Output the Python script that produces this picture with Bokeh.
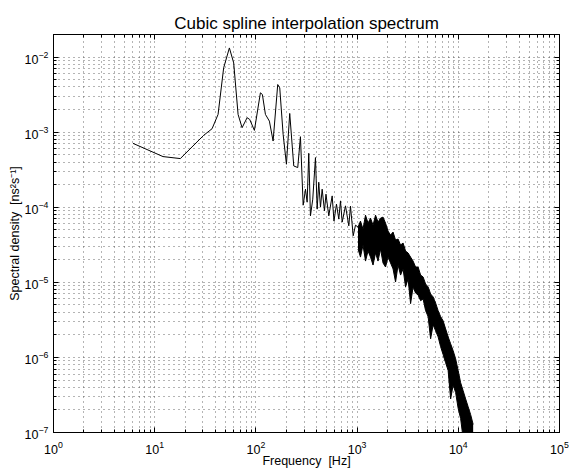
from bokeh.plotting import figure
from bokeh.models import Range1d, FixedTicker, LogAxis, ColumnDataSource, CustomJSTickFormatter
from bokeh.embed import file_html
from bokeh.resources import INLINE

# ---- data ----
# low-frequency / sparse part of the spectrum (Hz, ns^2 s^-1)
freq = [6.10, 12.08, 17.92, 30.45, 36.89, 42.28, 48.03, 54.69, 60.32, 66.68,
        73.03, 81.85, 86.83, 96.65, 110.8, 115.9, 124.2, 135.9, 147.9, 164.3,
        172.0, 185.8, 200.3, 215.9, 236.6, 259.1, 275.5, 293.1, 308.9, 320.9,
        332.9, 346.0, 364.6, 387.7, 403.0, 418.0, 434.5, 451.6, 476.1, 492.6,
        525.0, 567.2, 590.9, 625.5, 659.2, 685.2, 712.2, 768.0, 827.9, 860.5,
        914.9, 964.3, 1021.0]
psd = [7.10e-4, 4.73e-4, 4.45e-4, 9.07e-4, 1.112e-3, 1.724e-3, 7.19e-3, 1.325e-2, 8.38e-3, 1.724e-3,
       1.147e-3, 1.558e-3, 1.479e-3, 1.056e-3, 3.346e-3, 3.177e-3, 1.724e-3, 1.404e-3, 7.62e-4, 4.31e-3,
       3.90e-3, 9.35e-4, 3.74e-4, 1.777e-3, 3.55e-4, 3.38e-4, 8.71e-4, 1.066e-4, 1.74e-4, 1.168e-4,
       5.23e-4, 7.69e-5, 1.281e-4, 4.59e-4, 9.44e-5, 2.154e-4, 1.003e-4, 1.74e-4, 8.96e-5, 1.493e-4,
       7.69e-5, 1.417e-4, 6.54e-5, 1.10e-4, 6.95e-5, 1.216e-4, 6.34e-5, 1.044e-4, 5.66e-5, 1.034e-4,
       4.17e-5, 5.78e-5, 5.44e-5]

# dense high-frequency noise band: upper and lower envelope of the trace
band_freq = [1021, 1080, 1144, 1211, 1282, 1357, 1437, 1521, 1610, 1704,
             1804, 1910, 2022, 2141, 2266, 2399, 2540, 2689, 2846, 3013,
             3190, 3377, 3575, 3784, 4006, 4241, 4489, 4752, 5031, 5326,
             5638, 5968, 6318, 6688, 7080, 7495, 7934, 8399, 8891, 9412,
             9964, 10548, 11166, 11820, 12513, 13246, 14022]
band_hi = [5.44e-5, 6.54e-5, 5.12e-5, 7.85e-5, 6.15e-5, 7.16e-5, 5.78e-5, 7.85e-5, 6.34e-5, 7.16e-5,
           7.39e-5, 6.15e-5, 4.82e-5, 4.26e-5, 4.67e-5, 3.66e-5, 3.77e-5, 3.14e-5, 3.34e-5, 2.61e-5,
           2.46e-5, 2.17e-5, 1.92e-5, 1.60e-5, 1.60e-5, 1.25e-5, 1.18e-5, 9.5e-6, 8.7e-6, 7.0e-6,
           6.4e-6, 5.3e-6, 4.2e-6, 3.5e-6, 3.07e-6, 2.40e-6, 1.88e-6, 1.52e-6, 1.23e-6, 9.6e-7,
           6.7e-7, 4.6e-7, 3.6e-7, 2.8e-7, 2.2e-7, 1.73e-7, 1.28e-7]
band_lo = [2.78e-5, 2.17e-5, 3.14e-5, 1.92e-5, 2.61e-5, 2.17e-5, 1.70e-5, 2.46e-5, 1.92e-5, 2.78e-5,
           1.81e-5, 1.60e-5, 2.17e-5, 1.81e-5, 1.51e-5, 1.01e-5, 1.70e-5, 1.25e-5, 1.51e-5, 8.7e-6,
           1.11e-5, 5.2e-6, 8.7e-6, 7.2e-6, 6.8e-6, 5.7e-6, 6.0e-6, 4.2e-6, 3.5e-6, 1.77e-6,
           2.72e-6, 2.26e-6, 1.88e-6, 1.39e-6, 1.09e-6, 8.5e-7, 6.7e-7, 2.8e-7, 4.3e-7, 3.4e-7,
           2.1e-7, 1.53e-7, 8.3e-8, 8.3e-8, 8.3e-8, 8.3e-8, 8.3e-8]

x_major = [1, 10, 100, 1e3, 1e4, 1e5]
y_major = [1e-7, 1e-6, 1e-5, 1e-4, 1e-3, 1e-2]

FONT = "Liberation Sans"

x_minor = [m * d for d in x_major[:-1] for m in range(2, 10)]
y_minor = [m * d for d in y_major for m in range(2, 10)]

p = figure(width=569, height=470, x_axis_type="log", y_axis_type="log",
           x_range=Range1d(1, 1e5), y_range=Range1d(1e-7, 2e-2),
           output_backend="svg", toolbar_location=None,
           title="Cubic spline interpolation spectrum")
p.min_border_left = 53
p.min_border_right = 10
p.min_border_top = 34
p.min_border_bottom = 36
p.background_fill_color = "white"
p.border_fill_color = "white"
p.outline_line_color = "black"
p.outline_line_width = 1

p.title.align = "center"
p.title.offset = 11
p.title.text_font = FONT
p.title.text_font_size = "17px"
p.title.text_font_style = "normal"
p.title.text_color = "black"
p.title.standoff = 4

xt = FixedTicker(ticks=x_major, minor_ticks=x_minor)
yt = FixedTicker(ticks=y_major, minor_ticks=y_minor)

for ax, t in ((p.xaxis[0], xt), (p.yaxis[0], yt)):
    ax.ticker = t
    ax.major_tick_in = 5
    ax.major_tick_out = 0
    ax.minor_tick_in = 3
    ax.minor_tick_out = 0
    ax.axis_line_color = "black"
    ax.major_label_text_font = FONT
    ax.major_label_text_font_size = "12.5px"
    ax.major_label_text_color = "black"
    ax.axis_label_text_font = FONT
    ax.axis_label_text_font_size = "12.5px"
    ax.axis_label_text_font_style = "normal"
    ax.axis_label_text_color = "black"

p.xaxis.axis_label = "Frequency\u00a0\u00a0[Hz]"
p.yaxis.axis_label = "Spectral density\u00a0\u00a0[ns\u00b2s\u207b\u00b9]"
p.xaxis.axis_label_standoff = -3
p.yaxis.axis_label_standoff = 0
p.xaxis.major_label_standoff = 8
p.yaxis.major_label_standoff = 5

blank = CustomJSTickFormatter(code="return '';")
for loc, t in (("above", xt), ("right", yt)):
    a = LogAxis(ticker=t, formatter=blank, major_tick_in=5, major_tick_out=0,
                minor_tick_in=3, minor_tick_out=0,
                axis_line_color="black", major_label_standoff=0)
    p.add_layout(a, loc)

for g in (p.xgrid[0], p.ygrid[0]):
    g.grid_line_color = "#444444"
    g.grid_line_dash = "1 4"
    g.grid_line_width = 1
    g.grid_line_alpha = 0.8
    g.minor_grid_line_color = "#444444"
    g.minor_grid_line_dash = "1 4"
    g.minor_grid_line_width = 1
    g.minor_grid_line_alpha = 0.8

src = ColumnDataSource(dict(f=freq, s=psd))
band = ColumnDataSource(dict(f=band_freq, hi=band_hi, lo=band_lo))

p.line("f", "s", source=src, line_color="black", line_width=1)
p.varea(x="f", y1="lo", y2="hi", source=band, fill_color="black")
p.line("f", "hi", source=band, line_color="black", line_width=1)
p.line("f", "lo", source=band, line_color="black", line_width=1)

open("out.html", "w").write(file_html(p, INLINE))
